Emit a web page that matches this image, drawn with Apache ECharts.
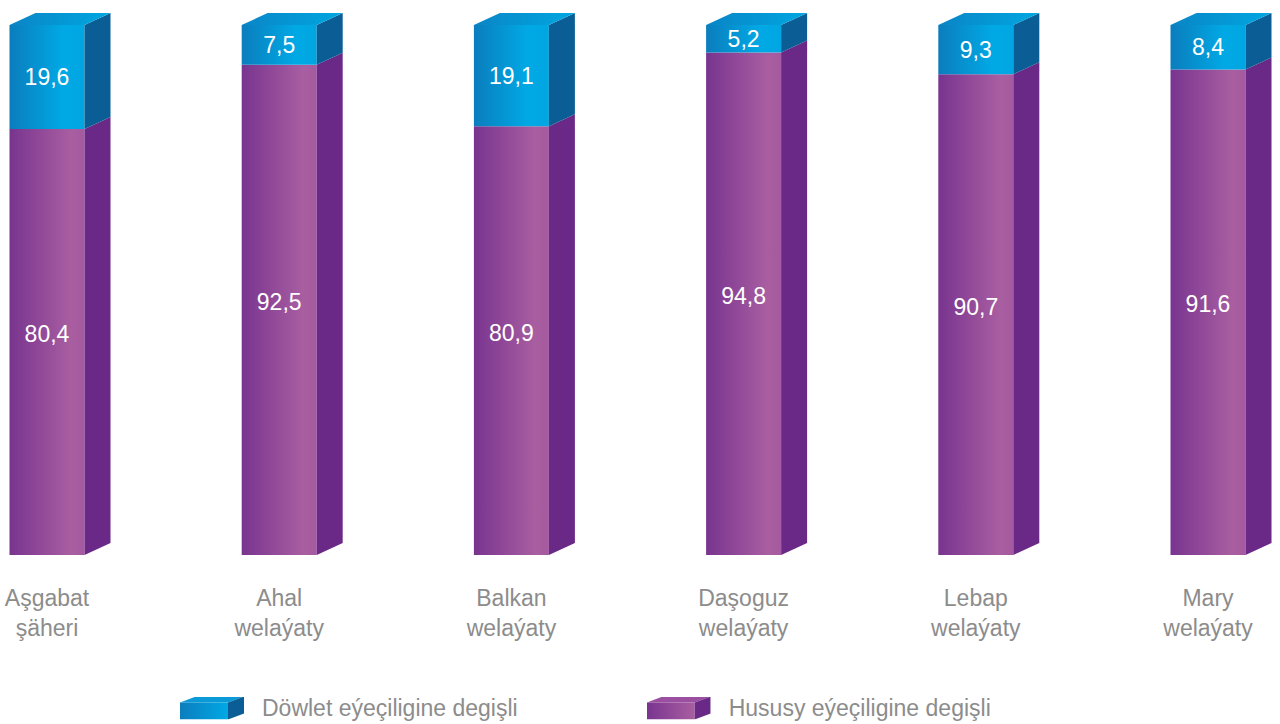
<!DOCTYPE html>
<html>
<head>
<meta charset="utf-8">
<script src="https://cdn.jsdelivr.net/npm/echarts@6/dist/echarts.min.js"></script>
<style>
html,body{margin:0;padding:0;background:#fff;}
#chart{width:1280px;height:724px;}
</style>
</head>
<body>
<div id="chart"></div>
<script>
const categories = ['Aşgabat\nşäheri', 'Ahal\nwelaýaty', 'Balkan\nwelaýaty', 'Daşoguz\nwelaýaty', 'Lebap\nwelaýaty', 'Mary\nwelaýaty'];
const seriesNames = ['Döwlet eýeçiligine degişli', 'Hususy eýeçiligine degişli'];
const dowlet = [19.6, 7.5, 19.1, 5.2, 9.3, 8.4];
const hususy = [80.4, 92.5, 80.9, 94.8, 90.7, 91.6];

const FONT = '"Liberation Sans", Arial, sans-serif';
const HW = 37.5, DX = 26, DY = 12;

const palettes = {
  purple: {
    front: new echarts.graphic.LinearGradient(0, 0, 1, 0, [
      {offset: 0, color: '#78348f'}, {offset: 0.82, color: '#a95ea1'}, {offset: 1, color: '#a55aa0'}]),
    side: '#6a2987',
    top: '#9a4fa0',
    labelShift: -8
  },
  blue: {
    front: new echarts.graphic.LinearGradient(0, 0, 1, 0, [
      {offset: 0, color: '#0b7dbd'}, {offset: 0.72, color: '#00a9e5'}, {offset: 1, color: '#00a6e1'}]),
    side: '#0a5e95',
    top: new echarts.graphic.LinearGradient(0, 0, 1, 0, [
      {offset: 0, color: '#0a85c6'}, {offset: 1, color: '#00a7e2'}]),
    labelShift: 0
  }
};

function fmt(v) { return v.toFixed(1).replace('.', ','); }

function makeRender(pal, isTop) {
  return function (params, api) {
    const i = api.value(0), y0 = api.value(1), y1 = api.value(2), v = api.value(3);
    const pb = api.coord([i, y0]);
    const pt = api.coord([i, y1]);
    const xl = pb[0] - HW, xr = pb[0] + HW, yb = pb[1], yt = pt[1];
    const children = [
      {type: 'rect', shape: {x: xl, y: yt, width: 2 * HW, height: yb - yt}, style: {fill: pal.front}},
      {type: 'polygon', shape: {points: [[xr, yb], [xr, yt], [xr + DX, yt - DY], [xr + DX, yb - DY]]}, style: {fill: pal.side}}
    ];
    if (isTop) {
      children.push({type: 'polygon', shape: {points: [[xl, yt], [xl + DX, yt - DY], [xr + DX, yt - DY], [xr, yt]]}, style: {fill: pal.top}});
    }
    children.push({type: 'text', style: {text: fmt(v), x: pb[0], y: (yb + yt) / 2 + pal.labelShift,
      align: 'center', verticalAlign: 'middle', fill: '#ffffff', fontSize: 23, fontFamily: FONT}});
    return {type: 'group', children: children};
  };
}

function iconSvg(frontA, frontB, top, side) {
  const s = "<svg xmlns='http://www.w3.org/2000/svg' width='64' height='23'><defs><linearGradient id='f' x1='0' y1='0' x2='1' y2='0'><stop offset='0' stop-color='" + frontA + "'/><stop offset='1' stop-color='" + frontB + "'/></linearGradient></defs>" +
    "<polygon points='0,6 16,0 64,0 48,6' fill='" + top + "'/><rect x='0' y='6' width='48' height='17' fill='url(#f)'/><polygon points='48,6 64,0 64,17 48,23' fill='" + side + "'/></svg>";
  return 'image://data:image/svg+xml;charset=utf-8,' + encodeURIComponent(s);
}

const purpleData = categories.map((c, i) => [i, 0, hususy[i], hususy[i]]);
const blueData = categories.map((c, i) => [i, hususy[i], hususy[i] + dowlet[i], dowlet[i]]);

const chart = echarts.init(document.getElementById('chart'), null, {renderer: 'svg'});
chart.setOption({
  backgroundColor: '#ffffff',
  animation: false,
  grid: {left: 47, right: 72, top: 25, bottom: 169, containLabel: false},
  xAxis: {
    type: 'category', data: categories, boundaryGap: false,
    axisLine: {show: false}, axisTick: {show: false}, splitLine: {show: false},
    axisLabel: {interval: 0, margin: 28, color: '#8c8c8c', fontSize: 23, lineHeight: 30, fontFamily: FONT}
  },
  yAxis: {type: 'value', min: 0, max: 100, show: false},
  legend: {
    left: 180, top: 696, padding: 0, itemGap: 129, itemWidth: 64, itemHeight: 23,
    textStyle: {color: '#8c8c8c', fontSize: 23, lineHeight: 24, fontFamily: FONT, padding: [0, 0, 0, 13]},
    data: [
      {name: seriesNames[0], icon: iconSvg('#0b7dbd', '#00a9e5', '#0a9ad8', '#0a5e95')},
      {name: seriesNames[1], icon: iconSvg('#78348f', '#a95ea1', '#9a4fa0', '#6a2987')}
    ]
  },
  series: [
    {type: 'custom', name: seriesNames[1], renderItem: makeRender(palettes.purple, false),
     encode: {x: 0, y: [1, 2]}, data: purpleData, itemStyle: {color: '#8e46a0'}},
    {type: 'custom', name: seriesNames[0], renderItem: makeRender(palettes.blue, true),
     encode: {x: 0, y: [1, 2]}, data: blueData, itemStyle: {color: '#00a0dc'}}
  ]
});
</script>
</body>
</html>
